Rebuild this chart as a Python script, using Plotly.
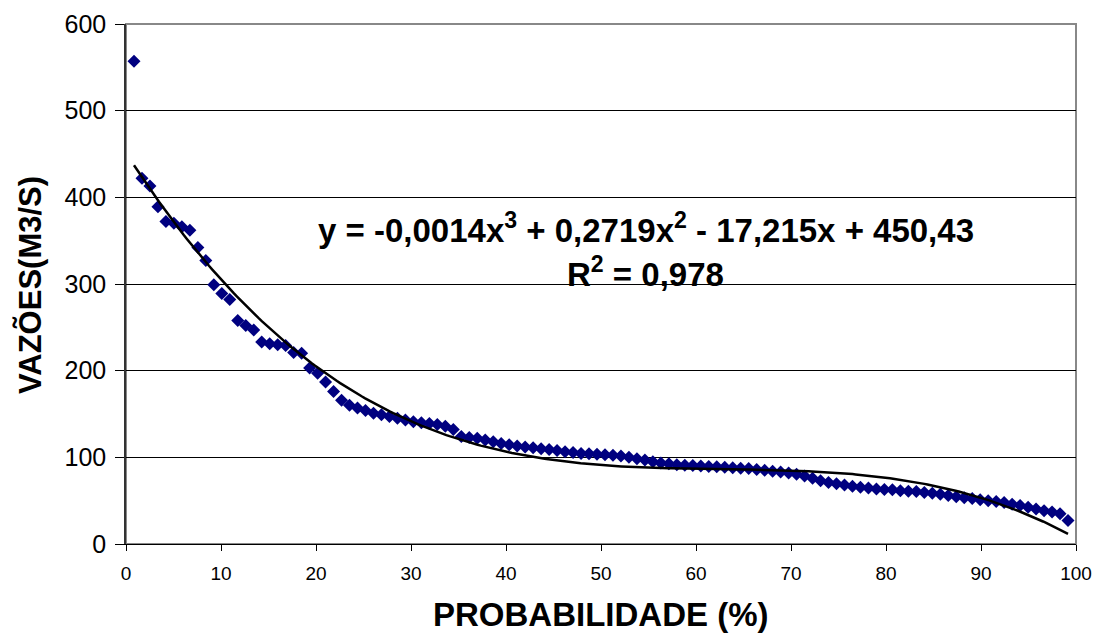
import numpy as np
import plotly.graph_objects as go

# Probability (%) of each ranked flow: rank / (n + 1) * 100
n_points = 118
ranks = list(range(1, n_points + 1))

# Flows (m3/s), in ranked order
vazoes = [
    557, 422, 413, 389, 372, 370, 366, 362, 342, 327,
    299, 289, 282, 258, 252, 247, 233, 231, 230, 229,
    221, 220, 203, 197, 187, 176, 166, 160, 157, 154,
    151, 149, 147, 145, 143, 141, 140, 139, 138, 136,
    132, 124, 123, 122, 120, 118, 116, 114.5, 113, 112,
    111, 110, 109, 108, 106.5, 105.5, 104.5, 104, 103.5, 103,
    102.5, 101.5, 100, 98.5, 97, 95, 93.5, 92.5, 91.5, 91,
    90.5, 90, 89.5, 89, 88.5, 88, 87.5, 87, 86, 85,
    84, 83, 82, 80.5, 78.5, 76, 73, 71, 69.5, 68,
    66.5, 65.5, 64.5, 63.5, 63, 62.5, 61.5, 61, 60.5, 59.5,
    58.5, 57.5, 56, 54.5, 53.5, 52.5, 51, 50, 49, 48,
    46, 44.5, 42.5, 40.5, 38.5, 37, 35, 27,
]

equation_text = "y = -0,0014x<sup>3</sup> + 0,2719x<sup>2</sup> - 17,215x + 450,43"
r2_text = "R<sup>2</sup> = 0,978"
x_title = "PROBABILIDADE (%)"
y_title = "VAZÕES(M3/S)"

x_ticks = [0, 10, 20, 30, 40, 50, 60, 70, 80, 90, 100]
y_ticks = [0, 100, 200, 300, 400, 500, 600]

prob = [r / (n_points + 1) * 100 for r in ranks]
# Cubic least-squares trendline (as the spreadsheet computed it)
coefs = np.polyfit(prob, vazoes, 3)
x_trend = np.linspace(prob[0], prob[-1], 300)
y_trend = np.polyval(coefs, x_trend)

fig = go.Figure()
fig.add_trace(go.Scatter(
    x=prob, y=vazoes, mode="markers",
    marker=dict(symbol="diamond", size=10, color="#000080",
                line=dict(width=0)),
    showlegend=False, hoverinfo="x+y",
))
fig.add_trace(go.Scatter(
    x=x_trend, y=y_trend, mode="lines",
    line=dict(color="black", width=2.5),
    showlegend=False, hoverinfo="skip",
))

font_family = "Liberation Sans, Arial, sans-serif"

fig.update_layout(
    width=1094, height=634,
    margin=dict(l=126, r=18, t=24, b=90),
    paper_bgcolor="white", plot_bgcolor="white",
    font=dict(family=font_family, color="black"),
    xaxis=dict(
        range=[0, 100], tickvals=x_ticks, ticktext=[str(v) for v in x_ticks],
        showgrid=False, zeroline=False, automargin=False,
        showline=True, linecolor="black", linewidth=1,
        ticks="outside", ticklen=6, tickcolor="black", tickwidth=1,
        tickfont=dict(size=19, family=font_family),
        ticklabelstandoff=6,
    ),
    yaxis=dict(
        range=[0, 600], tickvals=y_ticks, ticktext=[str(v) for v in y_ticks],
        showgrid=True, gridcolor="black", gridwidth=1,
        zeroline=False, automargin=False,
        showline=True, linecolor="#333333", linewidth=1.5,
        ticks="outside", ticklen=9, tickcolor="black", tickwidth=1,
        tickfont=dict(size=25, family=font_family),
        ticklabelstandoff=4,
    ),
    shapes=[dict(type="rect", xref="paper", yref="paper", x0=0, x1=1, y0=0, y1=1,
                 line=dict(color="#888888", width=2), layer="below")],
    annotations=[
        dict(x=54.7, y=364.5, xref="x", yref="y", text="<b>" + equation_text + "</b>",
             showarrow=False, font=dict(size=33, family=font_family),
             xanchor="center", yanchor="middle"),
        dict(x=54.7, y=313.5, xref="x", yref="y", text="<b>" + r2_text + "</b>",
             showarrow=False, font=dict(size=33, family=font_family),
             xanchor="center", yanchor="middle"),
        dict(x=0.5, y=-0.135, xref="paper", yref="paper", text="<b>" + x_title + "</b>",
             showarrow=False, font=dict(size=33, family=font_family),
             xanchor="center", yanchor="middle"),
        dict(x=-0.101, y=0.498, xref="paper", yref="paper", text="<b>" + y_title + "</b>",
             showarrow=False, font=dict(size=31, family=font_family),
             textangle=-90, xanchor="center", yanchor="middle"),
    ],
)

fig.write_html(
    "out.html",
    config={"displayModeBar": False},
    post_script="document.body.style.margin='0';document.body.style.overflow='hidden';",
)
